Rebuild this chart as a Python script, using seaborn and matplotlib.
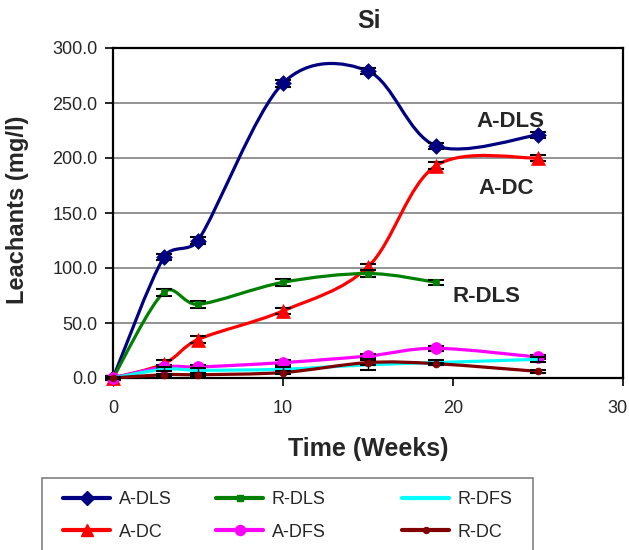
import numpy as np
import pandas as pd
import matplotlib
matplotlib.use("Agg")
import matplotlib.pyplot as plt
import matplotlib.transforms as mtransforms
from matplotlib.path import Path
from matplotlib.patches import PathPatch, Rectangle
from matplotlib.lines import Line2D
import seaborn as sns

# ---------------- data ----------------
weeks = [0, 3, 5, 10, 15, 19, 25]
a_dls = [0, 110, 125, 268, 279, 211, 221]
a_dc = [0, 13, 35, 61, 101, 193, 200]
r_dls = [0, 78, 67, 87, 95, 87]
a_dfs = [0, 10, 10, 14, 20, 27, 19]
r_dfs = [0, 8, 7, 8, 12, 14, 17]
r_dc = [0, 3, 3, 5, 14, 13, 6]

err_a_dls = [2, 3, 3, 3, 3, 3, 3]
err_a_dc = [2, 3, 3, 3, 3, 3, 3]
err_r_dls = [2, 3, 3, 3, 3, 2]
err_a_dfs = [2, 2, 2, 2, 2, 2, 2]
err_r_dfs = [1, 2, 2, 2, 5, 2, 2]
err_r_dc = [1, 1, 1, 1, 2, 1, 1]

series_names = ["A-DLS", "A-DC", "R-DLS", "A-DFS", "R-DFS", "R-DC"]
series_vals = [a_dls, a_dc, r_dls, a_dfs, r_dfs, r_dc]
series_errs = [err_a_dls, err_a_dc, err_r_dls, err_a_dfs, err_r_dfs, err_r_dc]
colors = {"A-DLS": "#000080", "A-DC": "#FF0000", "R-DLS": "#008000",
          "A-DFS": "#FF00FF", "R-DFS": "#00FFFF", "R-DC": "#800000"}
markers = {"A-DLS": "D", "A-DC": "^", "R-DLS": "s", "A-DFS": "o",
           "R-DFS": "", "R-DC": "o"}
msizes = {"A-DLS": 8, "A-DC": 10, "R-DLS": 5, "A-DFS": 8.5, "R-DFS": 0, "R-DC": 5}

rows = []
for name, vals in zip(series_names, series_vals):
    for w, v in zip(weeks, vals):
        rows.append({"Time": w, "Value": v, "Series": name})
df = pd.DataFrame(rows)

# ---------------- style ----------------
sns.set_style("white")
plt.rcParams["font.family"] = ["Liberation Sans", "DejaVu Sans"]

fig = plt.figure(figsize=(6.29, 5.5), dpi=100)
W, H = 629, 550
ax_l, ax_r, ax_t, ax_b = 113, 623, 48, 378
ax = fig.add_axes([ax_l / W, 1 - ax_b / H, (ax_r - ax_l) / W, (ax_b - ax_t) / H])
ax.set_xlim(0, 30)
ax.set_ylim(0, 300)


def smooth_path(xs, ys):
    """Excel-like smoothed line: Catmull-Rom Bezier, arms clamped in pixel space."""
    data = np.column_stack([xs, ys]).astype(float)
    pts = ax.transData.transform(data)
    n = len(pts)
    verts = [pts[0]]
    codes = [Path.MOVETO]
    for i in range(n - 1):
        p0 = pts[i - 1] if i > 0 else pts[i]
        p1 = pts[i]
        p2 = pts[i + 1]
        p3 = pts[i + 2] if i + 2 < n else pts[i + 1]
        d12 = np.linalg.norm(p2 - p1)
        t1 = (p2 - p0) / 6.0
        t2 = (p3 - p1) / 6.0
        lim = 0.42 * d12
        n1, n2 = np.linalg.norm(t1), np.linalg.norm(t2)
        if n1 > lim and n1 > 0:
            t1 = t1 * lim / n1
        if n2 > lim and n2 > 0:
            t2 = t2 * lim / n2
        verts += [p1 + t1, p2 - t2, p2]
        codes += [Path.CURVE4] * 3
    verts = ax.transData.inverted().transform(np.array(verts))
    return Path(verts, codes)


z = 10
for name, vals, errs in zip(series_names, series_vals, series_errs):
    xs = weeks[:len(vals)]
    patch = PathPatch(smooth_path(xs, vals), fill=False, edgecolor=colors[name],
                      lw=2.3, zorder=z, capstyle="round", joinstyle="round")
    patch.set_clip_on(False)
    ax.add_patch(patch)
    eb = ax.errorbar(xs, vals, yerr=errs, fmt="none", ecolor="black",
                     elinewidth=1.0, capsize=5.5, capthick=1.5, zorder=z + 1)
    for art in eb.get_children():
        art.set_clip_on(False)
    z += 2

# markers through seaborn
for i, name in enumerate(series_names):
    if name == "R-DFS":
        continue
    sub = df[df["Series"] == name]
    sns.scatterplot(data=sub, x="Time", y="Value", ax=ax, color=colors[name],
                    marker=markers[name], s=msizes[name] ** 2, edgecolor=colors[name],
                    linewidth=0.5, zorder=11 + 2 * i, clip_on=False, legend=False)

ax.set_xlim(0, 30)
ax.set_ylim(0, 300)
ax.set_xticks([0, 10, 20, 30])
ax.set_yticks(np.arange(0, 301, 50))
ax.set_yticklabels([f"{v:.1f}" for v in np.arange(0, 301, 50)])
ax.yaxis.grid(True, color="#808080", lw=1.2)
ax.xaxis.grid(False)
ax.set_axisbelow(True)
for sp in ax.spines.values():
    sp.set_color("black")
    sp.set_linewidth(1.6)
ax.tick_params(axis="both", direction="out", length=6, width=1.2, color="black",
               labelsize=13, left=True, bottom=True)
ax.tick_params(axis="x", pad=10)
ax.tick_params(axis="y", pad=5)

# keep the last x tick label inside the figure
fig.canvas.draw()
last = ax.get_xticklabels()[-1]
last.set_transform(last.get_transform() + mtransforms.ScaledTranslation(-6 / 100, 0, fig.dpi_scale_trans))

ax.set_xlabel("Time (Weeks)", fontsize=18, fontweight="bold")
ax.set_ylabel("Leachants (mg/l)", fontsize=17, fontweight="bold")
ax.xaxis.set_label_coords(0.5, -0.179)
ax.yaxis.set_label_coords(-0.165, 0.51)
fig.text(369 / W, 1 - 21 / H, "Si", ha="center", va="center",
         fontsize=18, fontweight="bold")

ax.text(23.4, 233, "A-DLS", fontsize=16, fontweight="bold", ha="center", va="center", zorder=30)
ax.text(23.1, 172, "A-DC", fontsize=16, fontweight="bold", ha="center", va="center", zorder=30)
ax.text(22.0, 74, "R-DLS", fontsize=16, fontweight="bold", ha="center", va="center", zorder=30)

# legend box
fig.patches.append(Rectangle((42 / W, -0.05), (533 - 42) / W, 1 - 478 / H + 0.05,
                             transform=fig.transFigure, fill=False,
                             edgecolor="#808080", lw=1.2))


def handle(name):
    return Line2D([], [], color=colors[name], lw=3, marker=markers[name] or None,
                  markersize=(msizes[name] * 0.85) if msizes[name] else 0,
                  markeredgecolor=colors[name])


cols = [(["A-DLS", "A-DC"], 49), (["R-DLS", "A-DFS"], 202), (["R-DFS", "R-DC"], 388)]
for names, x0 in cols:
    leg = fig.legend([handle(n) for n in names], names, loc="upper left",
                     bbox_to_anchor=(x0 / W, 1 - 477 / H), frameon=False,
                     fontsize=13, handlelength=2.6, handletextpad=0.45,
                     labelspacing=0.85, borderpad=0.3)

fig.savefig("out.png", dpi=100)
